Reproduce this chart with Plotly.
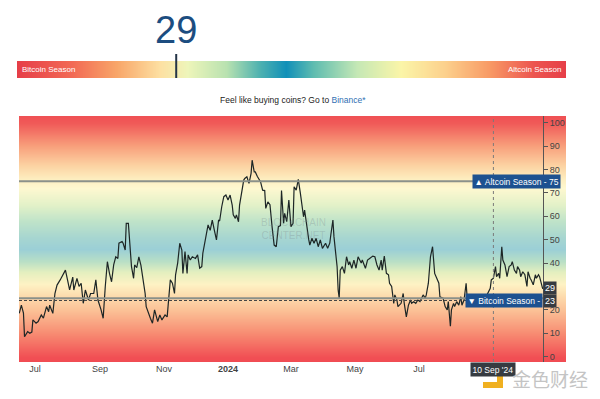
import plotly.graph_objects as go

# ---------------- data ----------------
dates = [
"2023-06-16","2023-06-18","2023-06-20","2023-06-21","2023-06-24","2023-06-26","2023-06-28","2023-06-29",
"2023-07-02","2023-07-04","2023-07-07","2023-07-09","2023-07-12","2023-07-14","2023-07-15","2023-07-18",
"2023-07-20","2023-07-22","2023-07-25","2023-07-28","2023-07-30","2023-08-01","2023-08-03","2023-08-06",
"2023-08-07","2023-08-10","2023-08-12","2023-08-14","2023-08-16","2023-08-18","2023-08-21","2023-08-23",
"2023-08-26","2023-08-28","2023-08-30","2023-09-02","2023-09-04","2023-09-06","2023-09-08","2023-09-10",
"2023-09-12","2023-09-14","2023-09-16","2023-09-18","2023-09-19","2023-09-22","2023-09-23","2023-09-25",
"2023-09-26","2023-09-28","2023-09-30","2023-10-01","2023-10-03","2023-10-04","2023-10-06","2023-10-08",
"2023-10-10","2023-10-12","2023-10-14","2023-10-15","2023-10-17","2023-10-19","2023-10-21","2023-10-23",
"2023-10-26","2023-10-28","2023-10-30","2023-11-02","2023-11-04","2023-11-06","2023-11-07","2023-11-09",
"2023-11-11","2023-11-12","2023-11-14","2023-11-16","2023-11-18","2023-11-19","2023-11-21","2023-11-23",
"2023-11-24","2023-11-26","2023-11-28","2023-12-01","2023-12-03","2023-12-05","2023-12-07","2023-12-08",
"2023-12-11","2023-12-13","2023-12-15","2023-12-17","2023-12-19","2023-12-21","2023-12-23","2023-12-24",
"2023-12-26","2023-12-28","2023-12-30","2024-01-01","2024-01-03","2024-01-05","2024-01-06","2024-01-08",
"2024-01-09","2024-01-11","2024-01-12","2024-01-14","2024-01-16","2024-01-17","2024-01-19","2024-01-21",
"2024-01-23","2024-01-24","2024-01-26","2024-01-27","2024-01-29","2024-02-01","2024-02-03","2024-02-05",
"2024-02-06","2024-02-08","2024-02-10","2024-02-12","2024-02-14","2024-02-16","2024-02-18","2024-02-20",
"2024-02-21","2024-02-23","2024-02-24","2024-02-26","2024-02-28","2024-03-01","2024-03-03","2024-03-04",
"2024-03-06","2024-03-07","2024-03-08","2024-03-10","2024-03-11","2024-03-13","2024-03-14","2024-03-16",
"2024-03-18","2024-03-19","2024-03-21","2024-03-23","2024-03-25","2024-03-27","2024-03-29","2024-03-31",
"2024-04-03","2024-04-05","2024-04-07","2024-04-08","2024-04-10","2024-04-11","2024-04-13","2024-04-14",
"2024-04-15","2024-04-16","2024-04-17","2024-04-19","2024-04-21","2024-04-23","2024-04-25","2024-04-26",
"2024-04-28","2024-04-30","2024-05-02","2024-05-04","2024-05-07","2024-05-08","2024-05-11","2024-05-13",
"2024-05-15","2024-05-18","2024-05-20","2024-05-22","2024-05-24","2024-05-26","2024-05-27","2024-05-29",
"2024-05-31","2024-06-02","2024-06-03","2024-06-05","2024-06-07","2024-06-08","2024-06-10","2024-06-11",
"2024-06-14","2024-06-16","2024-06-17","2024-06-19","2024-06-21","2024-06-23","2024-06-24","2024-06-26",
"2024-06-28","2024-06-30","2024-07-02","2024-07-05","2024-07-07","2024-07-08","2024-07-10","2024-07-12",
"2024-07-14","2024-07-15","2024-07-16","2024-07-18","2024-07-20","2024-07-21","2024-07-24","2024-07-26",
"2024-07-28","2024-07-29","2024-07-31","2024-08-01","2024-08-03","2024-08-04","2024-08-06","2024-08-08",
"2024-08-10","2024-08-11","2024-08-13","2024-08-15","2024-08-16","2024-08-18","2024-08-20","2024-08-23",
"2024-08-24","2024-08-26","2024-08-28","2024-08-30","2024-09-01","2024-09-03","2024-09-05","2024-09-07",
"2024-09-08","2024-09-10","2024-09-12","2024-09-13","2024-09-15","2024-09-16","2024-09-18","2024-09-19",
"2024-09-21","2024-09-23","2024-09-25","2024-09-27","2024-09-28","2024-09-30","2024-10-02","2024-10-03",
"2024-10-05","2024-10-06","2024-10-08","2024-10-10","2024-10-12","2024-10-13","2024-10-15","2024-10-16",
"2024-10-18","2024-10-20","2024-10-21","2024-10-23","2024-10-24","2024-10-26","2024-10-27"]

altcoin_index = [
18.5, 22, 18.6, 8.5, 10.7, 10, 10.5, 15.7,
14.3, 15, 17.8, 16.5, 21.4, 19.2, 22, 18.5,
27, 30.6, 32.8, 35.6, 37, 32.8, 28.5, 34,
28.5, 33.5, 30, 31.4, 22.8, 28.5, 24.2, 27,
27, 32.8, 24.2, 20, 16.4, 30, 40.6, 35.6,
32, 39.2, 42.7, 42, 48.5, 49.2, 48.5, 45.6,
57, 57, 42.7, 38.5, 33.5, 39.2, 38, 42.7,
39, 32.8, 27, 21.4, 18.5, 16.4, 14.3, 20,
15, 17.8, 15.7, 17.8, 17, 27, 32.8, 31.4,
27, 35, 40, 48.5, 45.6, 35.6, 44.9, 35.6,
43.5, 41.3, 42.7, 42, 43.5, 37.8, 38.5, 44.2,
51.3, 56.3, 54, 58.4, 54, 49.9, 58.4, 58,
64.1, 68.4, 69.1, 67, 69.1, 64.8, 60.6, 59.1,
60.6, 57.7, 64.8, 70.5, 75.5, 76.2, 76.9, 74.1,
78.4, 84, 79, 79, 77, 74.8, 71.2, 71,
63.4, 66.2, 65, 55.6, 47.7, 47, 55.6, 56,
71, 57, 61.3, 57.7, 67, 55.6, 57, 72.6,
71.2, 73.4, 75.8, 69.8, 66.2, 59.8, 62.7, 55.6,
49.9, 47.7, 50.6, 48.5, 50.6, 47, 49.9, 46.3,
48.5, 46.3, 48.5, 52, 58.4, 51.3, 44.2, 38.5,
28.5, 25, 37, 38.5, 35.6, 42.7, 39.2, 40.6,
37.8, 41.3, 37.8, 42.7, 40, 41.3, 37.8, 41.3,
42, 43, 42.7, 39.2, 37, 41.3, 37, 43,
35.6, 35, 31.4, 30, 22.8, 26.4, 24.2, 21.4,
22.8, 27, 22.8, 17, 22, 24.2, 22.8, 23.5,
22.8, 24.2, 23.5, 26.4, 25, 26.4, 31.4, 42.7,
47, 40, 35.6, 33.5, 31.4, 25.6, 25, 21.4,
20, 23.5, 13, 20, 22.8, 21.4, 23.5, 22,
25.6, 22, 24.2, 31.4, 25, 24.2, 25.6, 24.2,
22.8, 24.2, 22, 23.5, 22, 25.6, 27.8, 29.2,
32.8, 33.5, 38.5, 34.2, 35.6, 33.5, 47, 41.3,
39.2, 34.2, 38.5, 39.2, 40.6, 37, 35.6, 38.5,
37, 34.2, 36.3, 35, 30, 36.3, 33.5, 32.8,
30.7, 35, 33.5, 35, 34.2, 31.4, 29]

current_value = 29
altcoin_season_level = 75
bitcoin_season_level = 25
bitcoin_marker_level = 24
marker_label = "23"
highlight_date = "2024-09-10"
highlight_label = "10 Sep '24"

x_tick_vals = ["2023-07-01", "2023-09-01", "2023-11-01", "2024-01-01",
               "2024-03-01", "2024-05-01", "2024-07-01"]
x_tick_text = ["Jul", "Sep", "Nov", "<b>2024</b>", "Mar", "May", "Jul"]
y_tick_vals = [0, 10, 20, 30, 40, 50, 60, 70, 80, 90, 100]
y_tick_text = ["0", "10", "20", "", "40", "50", "60", "70", "80", "90", "100"]

# background colour bands (index value -> colour)
bg_levels = [-3, 0, 10, 20, 26, 31, 36, 41, 46, 51, 58, 65, 72, 76, 82, 90, 100, 104]
bg_colors = ["#f04a52", "#f14f54", "#f78c72", "#fbc196", "#fddbad", "#fef2c4",
             "#e4efbf", "#b8dfc6", "#9bcfd6", "#a7d6d0", "#bfe3c9", "#e2f1c8",
             "#fef8d0", "#fdeec0", "#fcd2a2", "#f8a07c", "#f05a58", "#ef4c52"]

# top gauge colours (position 0..100 -> colour)
gauge_stops = [0, 10, 18, 26, 31, 38, 44, 49, 54, 62, 70, 78, 86, 94, 100]
gauge_colors = ["#e63e48", "#f26a55", "#f8a568", "#fde0a2", "#eef5ba", "#b9e2b0",
                "#4fb2b0", "#1190b8", "#5ebcb0", "#c5e8b5", "#fbf5a8", "#fcd08c",
                "#f89a65", "#ec5550", "#e63e48"]

FONT = "Liberation Sans, Arial, sans-serif"
PAGE_OFF = 8          # default page margin of the html body
W, H = 600 - PAGE_OFF, 399 - PAGE_OFF

def px_x(p):
    return (p - PAGE_OFF) / W

def px_y(p):
    return (H - (p - PAGE_OFF)) / H

x_start = "2023-06-15 18:00"
x_end = "2024-11-18 05:00"

fig = go.Figure()

# main background gradient
n_bg = len(bg_levels)
fig.add_trace(go.Heatmap(
    x=[x_start, x_end], y=bg_levels,
    z=[[i, i] for i in range(n_bg)],
    colorscale=[[i / (n_bg - 1), c] for i, c in enumerate(bg_colors)],
    zsmooth="best", showscale=False, hoverinfo="skip",
    xaxis="x", yaxis="y"))

# index line
fig.add_trace(go.Scatter(
    x=dates, y=altcoin_index, mode="lines",
    line=dict(color="#1d2626", width=1.2),
    hoverinfo="skip", xaxis="x", yaxis="y"))

# gauge bar
n_g = len(gauge_stops)
fig.add_trace(go.Heatmap(
    x=gauge_stops, y=[0, 1],
    z=[list(range(n_g)), list(range(n_g))],
    colorscale=[[i / (n_g - 1), c] for i, c in enumerate(gauge_colors)],
    zsmooth="best", showscale=False, hoverinfo="skip",
    xaxis="x2", yaxis="y2"))

plot_bottom, plot_top = 362, 116
data_right = 543

shapes = [
    dict(type="line", xref="paper", yref="y", x0=px_x(19), x1=px_x(data_right),
         y0=altcoin_season_level, y1=altcoin_season_level,
         line=dict(color="#8b918a", width=2)),
    dict(type="line", xref="paper", yref="y", x0=px_x(19), x1=px_x(data_right),
         y0=bitcoin_season_level, y1=bitcoin_season_level,
         line=dict(color="#8b918a", width=2)),
    dict(type="line", xref="paper", yref="y", x0=px_x(19), x1=px_x(data_right),
         y0=bitcoin_marker_level, y1=bitcoin_marker_level,
         line=dict(color="#444444", width=1, dash="3px,2px")),
    dict(type="line", xref="x", yref="paper", x0=highlight_date, x1=highlight_date,
         y0=px_y(plot_bottom), y1=px_y(plot_top),
         line=dict(color="#7a7a7a", width=1, dash="dot")),
    # gauge marker
    dict(type="line", xref="x2", yref="paper", x0=current_value, x1=current_value,
         y0=px_y(78), y1=px_y(54), line=dict(color="#243447", width=2)),
    # watermark logo (yellow)
    dict(type="rect", xref="paper", yref="paper", x0=px_x(497), x1=px_x(503),
         y0=px_y(388), y1=px_y(366), fillcolor="#f0b020", line=dict(width=0)),
    dict(type="rect", xref="paper", yref="paper", x0=px_x(483), x1=px_x(503),
         y0=px_y(388), y1=px_y(382), fillcolor="#f0b020", line=dict(width=0)),
]

annotations = [
    dict(text=str(current_value), xref="x2", yref="paper", x=current_value, y=px_y(30),
         showarrow=False, font=dict(family=FONT, size=38, color="#1c4d80"),
         xanchor="center", yanchor="middle"),
    dict(text="Bitcoin Season", xref="paper", yref="paper", x=px_x(20), y=px_y(70),
         showarrow=False, font=dict(family=FONT, size=8, color="white"),
         xanchor="left", yanchor="middle"),
    dict(text="Altcoin Season", xref="paper", yref="paper", x=px_x(563), y=px_y(70),
         showarrow=False, font=dict(family=FONT, size=8, color="white"),
         xanchor="right", yanchor="middle"),
    dict(text="Feel like buying coins? Go to <span style='color:#2f6fb3'>Binance*</span>",
         xref="paper", yref="paper", x=px_x(293), y=px_y(100), showarrow=False,
         font=dict(family=FONT, size=8.5, color="#222222"), xanchor="center", yanchor="middle"),
    dict(text="▲ Altcoin Season - 75", xref="paper", yref="y", x=px_x(561),
         y=altcoin_season_level, showarrow=False, xanchor="right", yanchor="middle",
         bgcolor="#1d5190", borderpad=1.5,
         font=dict(family=FONT, size=8.5, color="white")),
    dict(text="▼ Bitcoin Season -", xref="paper", yref="y", x=px_x(543),
         y=bitcoin_marker_level, showarrow=False, xanchor="right", yanchor="middle",
         bgcolor="#1d5190", borderpad=1.5,
         font=dict(family=FONT, size=8.5, color="white")),
    dict(text=marker_label, xref="paper", yref="y", x=px_x(543),
         y=bitcoin_marker_level - 0.3, showarrow=False, xanchor="left", yanchor="middle",
         bgcolor="#363b41", borderpad=1,
         font=dict(family=FONT, size=9, color="white")),
    dict(text=str(current_value), xref="paper", yref="y", x=px_x(543),
         y=current_value + 0.3, showarrow=False, xanchor="left", yanchor="middle",
         bgcolor="#363b41", borderpad=1,
         font=dict(family=FONT, size=9, color="white")),
    dict(text=highlight_label, xref="x", yref="paper", x=highlight_date,
         y=px_y(369), showarrow=False, xanchor="center", yanchor="middle",
         bgcolor="#363b41", borderpad=1.5,
         font=dict(family=FONT, size=8.5, color="white")),
    dict(text="BLOCKCHAIN<br>CENTER.NET", xref="paper", yref="paper", x=px_x(293),
         y=px_y(229), showarrow=False, xanchor="center", yanchor="middle",
         font=dict(family=FONT, size=10, color="rgba(120,130,140,0.28)")),
    dict(text="金色财经", xref="paper", yref="paper", x=px_x(550), y=px_y(378),
         showarrow=False, xanchor="center", yanchor="middle",
         font=dict(family="Noto Sans CJK SC", size=19, color="#c4c4c4")),
]

fig.update_layout(
    width=W, height=H,
    margin=dict(l=0, r=0, t=0, b=0),
    paper_bgcolor="white", plot_bgcolor="white",
    showlegend=False,
    font=dict(family=FONT),
    xaxis=dict(domain=[px_x(19), px_x(566)], anchor="y", type="date",
               range=[x_start, x_end], tickvals=x_tick_vals, ticktext=x_tick_text,
               tickfont=dict(family=FONT, size=9, color="#444444"),
               showgrid=False, zeroline=False, showline=False, ticks=""),
    yaxis=dict(domain=[px_y(plot_bottom), px_y(plot_top)], range=[-2.3, 102.9],
               side="right", anchor="free", position=px_x(data_right),
               tickvals=y_tick_vals, ticktext=y_tick_text,
               ticks="outside", ticklen=4, tickcolor="#555555",
               showline=True, linecolor="#555555", linewidth=1,
               tickfont=dict(family=FONT, size=9, color="#444444"),
               showgrid=False, zeroline=False),
    xaxis2=dict(domain=[px_x(17), px_x(566)], anchor="y2", range=[0, 100], visible=False),
    yaxis2=dict(domain=[px_y(78), px_y(61)], anchor="x2", range=[0, 1], visible=False),
    shapes=shapes,
    annotations=annotations,
)

fig.write_html("out.html")
